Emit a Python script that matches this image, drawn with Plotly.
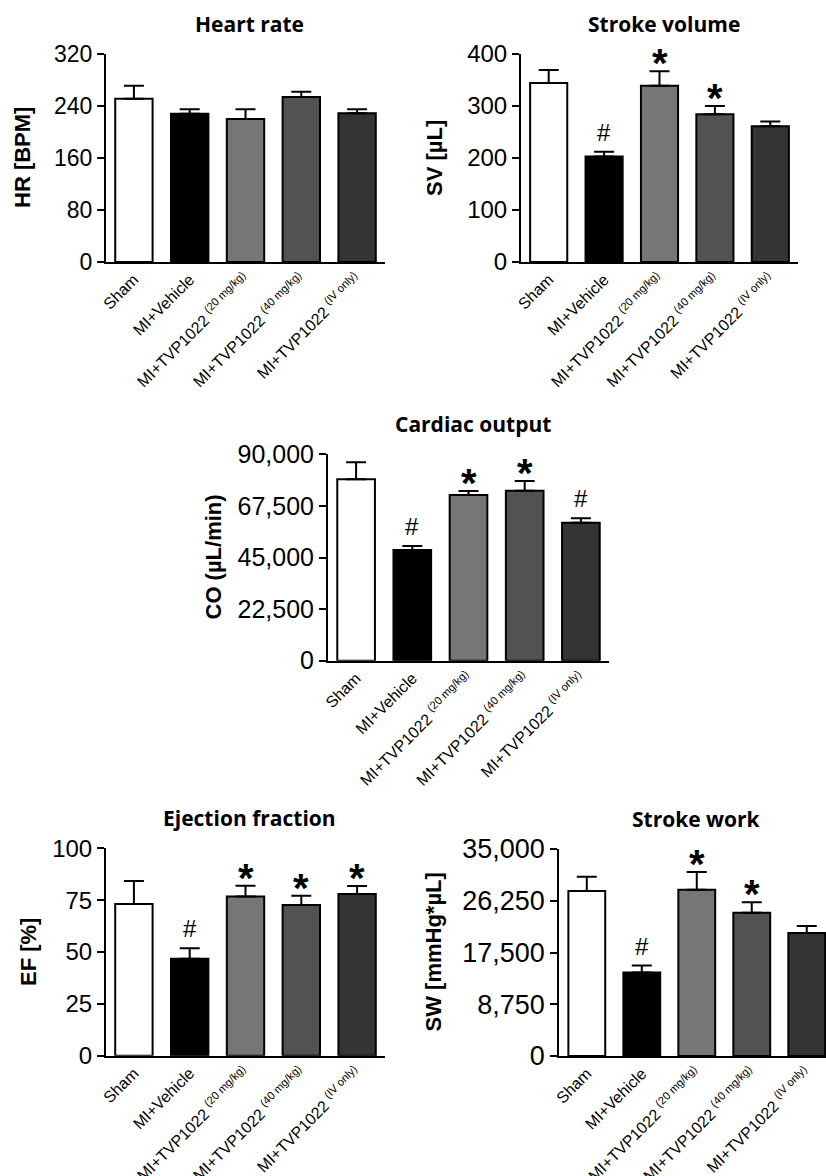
import plotly.graph_objects as go

W, H = 826, 1176

categories = ["Sham", "MI+Vehicle", "MI+TVP1022 <sup>(20 mg/kg)</sup>",
              "MI+TVP1022 <sup>(40 mg/kg)</sup>", "MI+TVP1022 <sup>(IV only)</sup>"]
bar_colors = ["#ffffff", "#000000", "#767676", "#525252", "#343434"]

hr_mean = [251, 228, 220, 254, 229]
hr_top = [271, 235, 235, 262, 235]

sv_mean = [344, 203, 339, 284, 261]
sv_top = [369, 212, 367, 300, 270]

co_mean = [79100, 48300, 72300, 74100, 60200]
co_top = [86500, 50000, 74000, 78400, 62100]

ef_mean = [73.1, 46.8, 76.7, 72.7, 78.0]
ef_top = [84.2, 51.8, 82.0, 77.1, 81.8]

sw_mean = [27900, 14100, 28100, 24200, 20800]
sw_top = [30300, 15300, 31100, 26000, 22000]

hr_ticks = [0, 80, 160, 240, 320]
sv_ticks = [0, 100, 200, 300, 400]
co_ticks = [0, 22500, 45000, 67500, 90000]
ef_ticks = [0, 25, 50, 75, 100]
sw_ticks = [0, 8750, 17500, 26250, 35000]

hr_marks = ["", "", "", "", ""]
sv_marks = ["", "#", "*", "*", ""]
co_marks = ["", "#", "*", "*", "#"]
ef_marks = ["", "#", "*", "*", "*"]
sw_marks = ["", "#", "*", "*", ""]

panels = [
    dict(title="Heart rate", ytitle="HR [BPM]", mean=hr_mean, top=hr_top, ticks=hr_ticks,
         marks=hr_marks, px=(106, 385), py=(54, 262), xr=[-0.5, 4.5], ytx=23, tfs=23),
    dict(title="Stroke volume", ytitle="SV [µL]", mean=sv_mean, top=sv_top, ticks=sv_ticks,
         marks=sv_marks, px=(521, 798), py=(54, 262), xr=[-0.5, 4.5], ytx=435, tfs=24),
    dict(title="Cardiac output", ytitle="CO (µL/min)", mean=co_mean, top=co_top, ticks=co_ticks,
         marks=co_marks, px=(328, 609), py=(454.3, 660.7), xr=[-0.5, 4.5], ytx=213, tfs=25),
    dict(title="Ejection fraction", ytitle="EF [%]", mean=ef_mean, top=ef_top, ticks=ef_ticks,
         marks=ef_marks, px=(106, 385), py=(848.3, 1055.7), xr=[-0.5, 4.5], ytx=28, tfs=24),
    dict(title="Stroke work", ytitle="SW [mmHg*µL]", mean=sw_mean, top=sw_top, ticks=sw_ticks,
         marks=sw_marks, px=(559.3, 826), py=(849, 1056), xr=[-0.5, 4.35], ytx=433, tfs=27),
]

fig = go.Figure()
annotations = []
FONT = "Liberation Sans, Arial, sans-serif"
TFONT = "Open Sans, Noto Sans, sans-serif"

for i, p in enumerate(panels):
    n = "" if i == 0 else str(i + 1)
    xa, ya = "x" + n, "y" + n
    err_plus = [t - m for t, m in zip(p["top"], p["mean"])]
    fig.add_trace(go.Bar(
        x=list(range(len(categories))), y=p["mean"], xaxis=xa, yaxis=ya,
        width=0.67,
        marker=dict(color=bar_colors, line=dict(color="black", width=2)),
        error_y=dict(type="data", symmetric=False, array=err_plus,
                     arrayminus=[0] * len(err_plus), color="black",
                     thickness=2, width=10),
        showlegend=False, hoverinfo="skip",
    ))
    tick_text = [f"{v:,}" for v in p["ticks"]]
    fig.update_layout(**{
        "xaxis" + n: dict(
            domain=[p["px"][0] / W, p["px"][1] / W], anchor=ya, automargin=False,
            range=p["xr"], tickmode="array", tickvals=list(range(len(categories))),
            ticktext=categories, tickangle=-45, ticks="", showline=True,
            linecolor="black", linewidth=2, showgrid=False, zeroline=False,
            tickfont=dict(family=FONT, size=16, color="black"), fixedrange=True,
        ),
        "yaxis" + n: dict(
            domain=[1 - p["py"][1] / H, 1 - p["py"][0] / H], anchor=xa, automargin=False,
            range=[0, p["ticks"][-1]], tickmode="array", tickvals=p["ticks"],
            ticktext=tick_text, ticks="outside", ticklen=7, tickwidth=2,
            tickcolor="black", showline=True, linecolor="black", linewidth=2,
            showgrid=False, zeroline=False,
            tickfont=dict(family=FONT, size=p["tfs"], color="black"), fixedrange=True,
        ),
    })
    # panel title
    annotations.append(dict(
        text="<b>" + p["title"] + "</b>", xref="paper", yref="paper",
        x=(p["px"][0] + p["px"][1]) / 2 / W + 0.005, y=1 - (p["py"][0] - 30) / H,
        xanchor="center", yanchor="middle", showarrow=False,
        font=dict(family=TFONT, size=21, color="black"),
    ))
    # y title
    annotations.append(dict(
        text="<b>" + p["ytitle"] + "</b>", xref="paper", yref="paper",
        x=p["ytx"] / W, y=1 - (p["py"][0] + p["py"][1]) / 2 / H,
        xanchor="center", yanchor="middle", textangle=-90, showarrow=False,
        font=dict(family=FONT, size=22, color="black"),
    ))
    # significance marks
    for k, mk in enumerate(p["marks"]):
        if not mk:
            continue
        if mk == "*":
            annotations.append(dict(
                text="<b>*</b>", xref=xa, yref=ya, x=k, y=p["top"][k],
                xanchor="center", yanchor="bottom", yshift=-16, showarrow=False,
                font=dict(family=FONT, size=40, color="black"),
            ))
        else:
            annotations.append(dict(
                text="#", xref=xa, yref=ya, x=k, y=p["top"][k],
                xanchor="center", yanchor="bottom", yshift=4, showarrow=False,
                font=dict(family=FONT, size=24, color="black"),
            ))

fig.update_layout(
    width=W, height=H, margin=dict(l=0, r=0, t=0, b=0, autoexpand=False),
    paper_bgcolor="white", plot_bgcolor="white",
    annotations=annotations, bargap=0.3,
)

fig.write_html("out.html", config={"displayModeBar": False, "staticPlot": True},
               post_script="document.body.style.margin='0';document.body.style.overflow='hidden';")
